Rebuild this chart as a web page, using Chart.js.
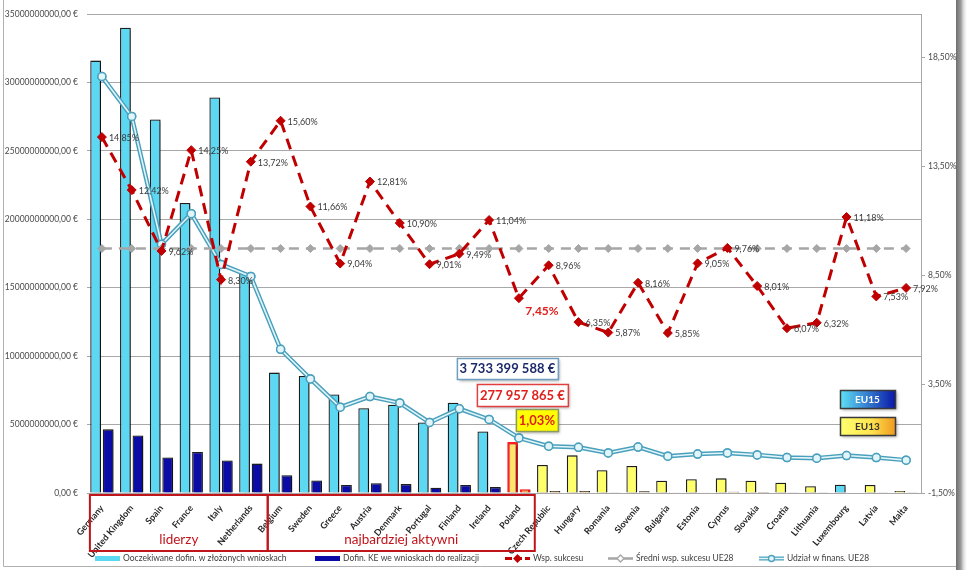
<!DOCTYPE html>
<html>
<head>
<meta charset="utf-8">
<script src="https://cdn.jsdelivr.net/npm/chart.js@4.4.0/dist/chart.umd.min.js"></script>
<style>
	html, body { margin: 0; padding: 0; background: #fff; }
	#wrap { width: 972px; height: 571px; }
</style>
</head>
<body>
<div id="wrap"><canvas id="chart" width="972" height="571"></canvas></div>
<script>
( function () {
	'use strict';

	// ── Data ─────────────────────────────────────────────────────────────
	const countries = [
		'Germany', 'United Kingdom', 'Spain', 'France', 'Italy', 'Netherlands', 'Belgium',
		'Sweden', 'Greece', 'Austria', 'Denmark', 'Portugal', 'Finland', 'Ireland', 'Poland',
		'Czech Republic', 'Hungary', 'Romania', 'Slovenia', 'Bulgaria', 'Estonia', 'Cyprus',
		'Slovakia', 'Croatia', 'Lithuania', 'Luxembourg', 'Latvia', 'Malta',
	];
	const groups = [
		'EU15', 'EU15', 'EU15', 'EU15', 'EU15', 'EU15', 'EU15',
		'EU15', 'EU15', 'EU15', 'EU15', 'EU15', 'EU15', 'EU15', 'EU13',
		'EU13', 'EU13', 'EU13', 'EU13', 'EU13', 'EU13', 'EU13',
		'EU13', 'EU13', 'EU13', 'EU15', 'EU13', 'EU13',
	];
	// Oczekiwane dofinansowanie w złożonych wnioskach (EUR)
	const expectedFunding = [
		31.6e9, 34.0e9, 27.3e9, 21.2e9, 28.9e9, 16.1e9, 8.8e9,
		8.55e9, 7.2e9, 6.2e9, 6.45e9, 5.15e9, 6.6e9, 4.5e9, 3733399588,
		2.05e9, 2.75e9, 1.67e9, 1.98e9, 0.9e9, 1.0e9, 1.07e9,
		0.9e9, 0.75e9, 0.5e9, 0.6e9, 0.58e9, 0.15e9,
	];
	// Dofinansowanie KE we wnioskach do realizacji (EUR)
	const grantedFunding = [
		4.65e9, 4.2e9, 2.6e9, 3.0e9, 2.37e9, 2.15e9, 1.3e9,
		0.92e9, 0.58e9, 0.72e9, 0.65e9, 0.38e9, 0.58e9, 0.43e9, 277957865,
		0.15e9, 0.15e9, 0.05e9, 0.12e9, 0.06e9, 0.06e9, 0.1e9,
		0.07e9, 0.05e9, 0.02e9, 0.04e9, 0.05e9, 0.02e9,
	];
	// Współczynnik sukcesu (%)
	const successRate = [
		14.85, 12.42, 9.62, 14.25, 8.30, 13.72, 15.60,
		11.66, 9.04, 12.81, 10.90, 9.01, 9.49, 11.04, 7.45,
		8.96, 6.35, 5.87, 8.16, 5.85, 9.05, 9.76,
		8.01, 6.07, 6.32, 11.18, 7.53, 7.92,
	];
	// Średni współczynnik sukcesu UE28 (%)
	const avgSuccessRate = [
		9.73, 9.73, 9.73, 9.73, 9.73, 9.73, 9.73,
		9.73, 9.73, 9.73, 9.73, 9.73, 9.73, 9.73, 9.73,
		9.73, 9.73, 9.73, 9.73, 9.73, 9.73, 9.73,
		9.73, 9.73, 9.73, 9.73, 9.73, 9.73,
	];
	// Udział w finansowaniu UE28 (%)
	const fundingShare = [
		17.63, 15.8, 9.93, 11.33, 9.0, 8.45, 5.1,
		3.74, 2.44, 2.93, 2.64, 1.74, 2.37, 1.88, 1.03,
		0.65, 0.6, 0.34, 0.61, 0.19, 0.29, 0.34,
		0.25, 0.13, 0.10, 0.22, 0.13, 0.01,
	];
	const leftTicks = [ 0, 5e9, 10e9, 15e9, 20e9, 25e9, 30e9, 35e9 ];
	const rightTicks = [ -1.5, 3.5, 8.5, 13.5, 18.5 ];
	const highlighted = 'Poland';

	// ── Helpers ──────────────────────────────────────────────────────────
	const FONT = 'Lato, "Open Sans", sans-serif';
	const hiIndex = countries.indexOf( highlighted );

	function pct( v ) {
		return v.toFixed( 2 ).replace( '.', ',' ) + '%';
	}

	function euro( v ) {
		return String( Math.round( v ) ).replace( /\B(?=(\d{3})+(?!\d))/g, ' ' ) + ' €';
	}

	function lightColor( i ) {
		if ( i === hiIndex ) return '#ffe36e';
		return groups[ i ] === 'EU13' ? '#ffff6a' : '#5cd8f3';
	}

	function darkColor( i ) {
		if ( i === hiIndex ) return '#f2a040';
		return groups[ i ] === 'EU13' ? '#e39a3c' : '#0b0ba6';
	}

	function boxWithShadow( ctx, x, y, w, h, fill, stroke ) {
		ctx.save();
		ctx.shadowColor = 'rgba(0,0,0,0.35)';
		ctx.shadowBlur = 3;
		ctx.shadowOffsetX = 2;
		ctx.shadowOffsetY = 2;
		ctx.fillStyle = fill;
		ctx.fillRect( x, y, w, h );
		ctx.restore();
		ctx.lineWidth = 1.5;
		ctx.strokeStyle = stroke;
		ctx.strokeRect( x + 0.5, y + 0.5, w, h );
	}

	// ── Plugins ──────────────────────────────────────────────────────────

	// white page + frame like the pasted Excel chart
	const framePlugin = {
		id: 'frame',
		beforeDraw: function ( chart ) {
			const ctx = chart.ctx;
			ctx.save();
			ctx.fillStyle = '#fff';
			ctx.fillRect( 0, 0, chart.width, chart.height );
			ctx.strokeStyle = '#b0b0b0';
			ctx.lineWidth = 1;
			ctx.beginPath();
			ctx.moveTo( 3.5, 0 );
			ctx.lineTo( 3.5, 566.5 );
			ctx.lineTo( 958, 566.5 );
			ctx.stroke();
			const g = ctx.createLinearGradient( 956, 0, 968, 0 );
			g.addColorStop( 0, '#6e6e6e' );
			g.addColorStop( 0.4, '#9a9a9a' );
			g.addColorStop( 1, 'rgba(255,255,255,0)' );
			ctx.fillStyle = g;
			ctx.fillRect( 956, 0, 12, 570 );
			ctx.restore();
		},
	};

	// shadows under the bars, double stroke for the share line
	const styleHelpers = {
		id: 'styleHelpers',
		beforeDatasetDraw: function ( chart, args ) {
			const ctx = chart.ctx;
			ctx.save();
			if ( chart.data.datasets[ args.index ].type === 'bar' ) {
				ctx.shadowColor = 'rgba(0,0,0,0.45)';
				ctx.shadowBlur = 3;
				ctx.shadowOffsetX = 2;
				ctx.shadowOffsetY = 1;
			}
		},
		afterDatasetDraw: function ( chart, args ) {
			const ctx = chart.ctx;
			ctx.restore();
			if ( args.index !== 4 ) return;
			const pts = args.meta.data;
			ctx.save();
			ctx.strokeStyle = '#e2f5fa';
			ctx.lineWidth = 1.6;
			ctx.beginPath();
			pts.forEach( function ( p, i ) {
				if ( i === 0 ) ctx.moveTo( p.x, p.y ); else ctx.lineTo( p.x, p.y );
			} );
			ctx.stroke();
			pts.forEach( function ( p ) { p.draw( ctx, chart.chartArea ); } );
			ctx.restore();
		},
	};

	const annotations = {
		id: 'annotations',
		afterDraw: function ( chart ) {
			const ctx = chart.ctx;
			const x = chart.scales.x;
			ctx.save();

			// value labels on the success-rate line
			const meta = chart.getDatasetMeta( 2 );
			ctx.textBaseline = 'middle';
			meta.data.forEach( function ( p, i ) {
				if ( i === hiIndex ) {
					ctx.font = 'bold 12px ' + FONT;
					ctx.fillStyle = '#e0201c';
					ctx.textAlign = 'center';
					ctx.fillText( pct( successRate[ i ] ), p.x + 23, p.y + 13 );
				} else {
					ctx.font = '9px ' + FONT;
					ctx.fillStyle = '#3a3a3a';
					ctx.textAlign = 'left';
					ctx.fillText( pct( successRate[ i ] ), p.x + 7, p.y + 1 );
				}
			} );

			// Poland call-outs
			const px = x.getPixelForValue( hiIndex );
			ctx.font = 'bold 13px ' + FONT;
			ctx.textAlign = 'center';
			boxWithShadow( ctx, px - 62, 358, 101, 21, '#fff', '#6f9fc0' );
			ctx.fillStyle = '#1d2a6a';
			ctx.fillText( euro( expectedFunding[ hiIndex ] ), px - 11.5, 369 );
			boxWithShadow( ctx, px - 42, 384, 91, 22, '#fff', '#e04040' );
			ctx.fillStyle = '#e0201c';
			ctx.fillText( euro( grantedFunding[ hiIndex ] ), px + 3.5, 395.5 );
			boxWithShadow( ctx, px - 3, 409, 42, 22, '#ffff00', '#8a9a60' );
			ctx.fillStyle = '#e0201c';
			ctx.fillText( pct( fundingShare[ hiIndex ] ), px + 18, 420.5 );

			// EU15 / EU13 keys
			ctx.font = 'bold 10px ' + FONT;
			let g = ctx.createLinearGradient( 840, 0, 895, 0 );
			g.addColorStop( 0, '#5fe2f6' );
			g.addColorStop( 1, '#0a18a8' );
			boxWithShadow( ctx, 840, 390, 55, 18, g, '#3a3a3a' );
			ctx.fillStyle = '#fff';
			ctx.fillText( 'EU15', 867.5, 399.5 );
			g = ctx.createLinearGradient( 840, 0, 895, 0 );
			g.addColorStop( 0, '#ffff70' );
			g.addColorStop( 0.55, '#ffe650' );
			g.addColorStop( 1, '#f09a20' );
			boxWithShadow( ctx, 840, 417, 55, 18, g, '#3a3a3a' );
			ctx.fillStyle = '#333';
			ctx.fillText( 'EU13', 867.5, 426.5 );

			// group boxes under the category axis
			const left = x.getPixelForValue( 0 ) - 12;
			const mid = ( x.getPixelForValue( 5 ) + x.getPixelForValue( 6 ) ) / 2 + 2;
			const right = ( x.getPixelForValue( 14 ) + x.getPixelForValue( 15 ) ) / 2 + 1;
			ctx.strokeStyle = '#c0151b';
			ctx.lineWidth = 2;
			ctx.strokeRect( left, 495, mid - left, 56 );
			ctx.strokeRect( mid, 495, right - mid, 56 );
			ctx.font = '13.5px ' + FONT;
			ctx.fillStyle = '#c0151b';
			ctx.fillText( 'liderzy', ( left + mid ) / 2, 540 );
			ctx.fillText( 'najbardziej aktywni', ( mid + right ) / 2, 540 );

			// legend
			const legendX = [ 95, 315, 505, 608, 759 ];
			const ly = 558.5;
			ctx.font = '8.5px ' + FONT;
			ctx.textAlign = 'left';
			chart.data.datasets.forEach( function ( ds, i ) {
				const lx = legendX[ i ];
				ctx.save();
				if ( i === 0 ) {
					ctx.fillStyle = '#5cd8f3';
					ctx.fillRect( lx, ly - 2.5, 25, 5 );
				} else if ( i === 1 ) {
					ctx.fillStyle = '#0b0ba6';
					ctx.fillRect( lx, ly - 2.5, 25, 5 );
				} else {
					ctx.strokeStyle = ds.borderColor;
					ctx.lineWidth = i === 4 ? 4 : ds.borderWidth;
					ctx.setLineDash( i === 2 ? [ 7, 3 ] : [] );
					ctx.beginPath();
					ctx.moveTo( lx, ly );
					ctx.lineTo( lx + 25, ly );
					ctx.stroke();
					if ( i === 4 ) {
						ctx.strokeStyle = '#e2f5fa';
						ctx.lineWidth = 1.5;
						ctx.beginPath();
						ctx.moveTo( lx, ly );
						ctx.lineTo( lx + 25, ly );
						ctx.stroke();
					}
					ctx.setLineDash( [] );
					ctx.fillStyle = i === 3 ? '#fff' : ds.pointBackgroundColor;
					ctx.strokeStyle = ds.pointBorderColor;
					ctx.lineWidth = 1.3;
					ctx.beginPath();
					if ( ds.pointStyle === 'circle' ) {
						ctx.arc( lx + 12.5, ly, 3, 0, Math.PI * 2 );
					} else {
						ctx.moveTo( lx + 12.5, ly - 3.5 );
						ctx.lineTo( lx + 16, ly );
						ctx.lineTo( lx + 12.5, ly + 3.5 );
						ctx.lineTo( lx + 9, ly );
						ctx.closePath();
					}
					ctx.fill();
					ctx.stroke();
				}
				ctx.restore();
				ctx.fillStyle = '#404040';
				ctx.fillText( ds.label, lx + 28, ly );
			} );

			ctx.restore();
		},
	};

	// ── Chart ────────────────────────────────────────────────────────────
	Chart.defaults.font.family = FONT;
	Chart.defaults.color = '#404040';

	new Chart( document.getElementById( 'chart' ).getContext( '2d' ), {
		type: 'bar',
		data: {
			labels: countries,
			datasets: [
				{
					type: 'bar',
					label: 'Ooczekiwane dofin. w złożonych wnioskach',
					data: expectedFunding,
					yAxisID: 'y',
					backgroundColor: countries.map( function ( _, i ) { return lightColor( i ); } ),
					borderColor: countries.map( function ( _, i ) { return i === hiIndex ? '#ff2020' : '#1e1e1e'; } ),
					borderWidth: countries.map( function ( _, i ) { return i === hiIndex ? 2.5 : 1.3; } ),
					barPercentage: 0.86,
					categoryPercentage: 0.84,
					order: 10,
				},
				{
					type: 'bar',
					label: 'Dofin. KE we wnioskach do realizacji',
					data: grantedFunding,
					yAxisID: 'y',
					backgroundColor: countries.map( function ( _, i ) { return darkColor( i ); } ),
					borderColor: countries.map( function ( _, i ) { return i === hiIndex ? '#ff2020' : '#1e1e1e'; } ),
					borderWidth: countries.map( function ( _, i ) { return i === hiIndex ? 2.5 : 1.3; } ),
					barPercentage: 0.86,
					categoryPercentage: 0.84,
					order: 10,
				},
				{
					type: 'line',
					label: 'Wsp. sukcesu',
					data: successRate,
					yAxisID: 'y1',
					borderColor: '#c00000',
					borderWidth: 3,
					borderDash: [ 11, 7 ],
					pointStyle: 'rectRot',
					pointRadius: 4.5,
					pointBackgroundColor: '#c00000',
					pointBorderColor: '#c00000',
					pointBorderWidth: 1,
					tension: 0,
					order: 1,
				},
				{
					type: 'line',
					label: 'Średni wsp. sukcesu UE28',
					data: avgSuccessRate,
					yAxisID: 'y1',
					borderColor: '#a6a6a6',
					borderWidth: 2.5,
					borderDash: [ 10, 7 ],
					pointStyle: 'rectRot',
					pointRadius: 4,
					pointBackgroundColor: '#a6a6a6',
					pointBorderColor: '#a6a6a6',
					pointBorderWidth: 1,
					order: 2,
				},
				{
					type: 'line',
					label: 'Udział w finans. UE28',
					data: fundingShare,
					yAxisID: 'y1',
					borderColor: '#4aa0bc',
					borderWidth: 4.5,
					pointStyle: 'circle',
					pointRadius: 4,
					pointBackgroundColor: '#e2f5fa',
					pointBorderColor: '#4aa0bc',
					pointBorderWidth: 1.5,
					tension: 0,
					order: 3,
				},
			],
		},
		options: {
			responsive: false,
			animation: false,
			devicePixelRatio: 1,
			layout: { padding: { top: 11, left: 0, right: 0, bottom: 0 } },
			plugins: {
				legend: { display: false },
				tooltip: { enabled: false },
			},
			scales: {
				x: {
					grid: { display: false },
					border: { display: false },
					ticks: {
						autoSkip: false,
						minRotation: 50,
						maxRotation: 50,
						padding: 2,
						color: '#262626',
						font: { size: 9, weight: 'bold' },
					},
					afterFit: function ( s ) { s.height = 78; },
				},
				y: {
					position: 'left',
					min: 0,
					max: 35e9,
					afterBuildTicks: function ( s ) {
						s.ticks = leftTicks.map( function ( v ) { return { value: v }; } );
					},
					grid: { color: '#a8a8a8', lineWidth: 1, drawTicks: false },
					border: { display: false },
					ticks: {
						padding: 9,
						color: '#4a4a4a',
						font: { size: 8.5 },
						callback: function ( v ) { return v.toFixed( 0 ) + ',00 €'; },
					},
					afterFit: function ( s ) { s.width = 87; },
				},
				y1: {
					position: 'right',
					min: -1.5,
					max: 20.5,
					afterBuildTicks: function ( s ) {
						s.ticks = rightTicks.map( function ( v ) { return { value: v }; } );
					},
					grid: { drawOnChartArea: false, color: '#a8a8a8', tickLength: 4 },
					border: { display: true, color: '#a8a8a8' },
					ticks: {
						padding: 3,
						color: '#4a4a4a',
						font: { size: 8.5 },
						callback: function ( v ) { return pct( v ); },
					},
					afterFit: function ( s ) { s.width = 51; },
				},
			},
		},
		plugins: [ framePlugin, styleHelpers, annotations ],
	} );
} )();
</script>
</body>
</html>
